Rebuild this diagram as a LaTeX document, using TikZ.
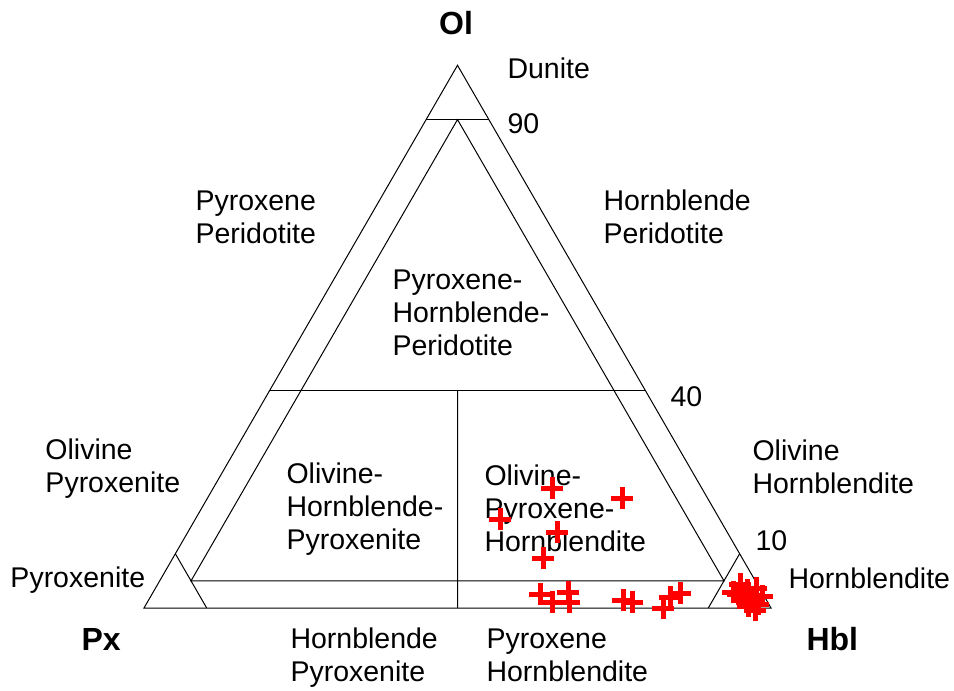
\documentclass[tikz,border=0pt]{standalone}
\usepackage{fontspec}
\setmainfont{Liberation Sans}
\usetikzlibrary{positioning, calc}
\tikzset{
  ternary/.style={
	x=0.5pt, y=-0.5pt, % one unit is one pixel of the sheet
	line width=0.5pt, % thin field boundaries
	every node/.style={inner sep=0pt, font=\fontsize{14.25}{16.5}\selectfont},
  },
  field/.style={align=left, anchor=base west}, % names of the rock fields (base = last line)
  apex/.style={font=\fontsize{16}{19}\bfseries\selectfont}, % end-member names
  sample/.style={draw=red, line width=2.5pt}, % plotted analyses
}

\begin{document}
\begin{tikzpicture}[ternary]
\useasboundingbox (0,0) rectangle (954,691);

\coordinate (ol) at (457.5,65.3);
\coordinate (px) at (144,608);
\coordinate (hbl) at (771,608);

% outer triangle and field boundaries
\draw (ol) -- (px) -- (hbl) -- cycle;
\draw (barycentric cs:ol=.9,px=.1) -- (barycentric cs:ol=.9,hbl=.1);
\draw (barycentric cs:ol=.4,px=.6) -- (barycentric cs:ol=.4,hbl=.6);
\draw (barycentric cs:ol=.05,px=.9,hbl=.05) -- (barycentric cs:ol=.9,px=.05,hbl=.05)
	-- (barycentric cs:ol=.05,px=.05,hbl=.9) -- cycle;
\draw (barycentric cs:px=.9,ol=.1) -- (barycentric cs:px=.9,hbl=.1);
\draw (barycentric cs:hbl=.9,ol=.1) -- (barycentric cs:hbl=.9,px=.1);
\draw (barycentric cs:ol=.4,px=.3,hbl=.3) -- (barycentric cs:px=.5,hbl=.5);

% end-members
\node[apex, anchor=base] (olname) at (456,34) {Ol};
\node[apex, anchor=base west] (pxname) at (81,650) {Px};
\node[apex, anchor=base west] (hblname) at (806,650) {Hbl};

% olivine ticks
\node[field] (t90) at (507,133) {90};
\node[field] (t40) at (670,406) {40};
\node[field] (t10) at (755,550) {10};

% rock fields
\node[field] (dun) at (507,78) {Dunite};
\node[field] (pxper) at (195,243) {Pyroxene\\Peridotite};
\node[field] (hblper) at (603,243) {Hornblende\\Peridotite};
\node[field] (pxhblper) at (392,355) {Pyroxene-\\Hornblende-\\Peridotite};
\node[field] (olpxite) at (45,492) {Olivine\\Pyroxenite};
\node[field] (olhblite) at (752,493) {Olivine\\Hornblendite};
\node[field] (olhblpx) at (286,549) {Olivine-\\Hornblende-\\Pyroxenite};
\node[field] (olpxhbl) at (484,551) {Olivine-\\Pyroxene-\\Hornblendite};
\node[field] (pxite) at (10,587) {Pyroxenite};
\node[field] (hblite) at (788,588) {Hornblendite};
\node[field] (hblpx) at (290,681) {Hornblende\\Pyroxenite};
\node[field] (pxhbl) at (486,681) {Pyroxene\\Hornblendite};

% analyses
\foreach \sx/\sy in {552/488, 622/498, 500/519, 557/532, 543/558,
	540/594, 552/602, 568/592, 569/602, 623/600, 632/602,
	663/608, 670/597, 680/593,
	740/584, 733/592, 747/590, 756/588, 762/596, 743/598,
	752/600, 758/604, 748/606, 755/610, 738/594}
  \draw[sample] (\sx-11,\sy) -- (\sx+11,\sy) (\sx,\sy-11) -- (\sx,\sy+11);
\end{tikzpicture}
\end{document}
